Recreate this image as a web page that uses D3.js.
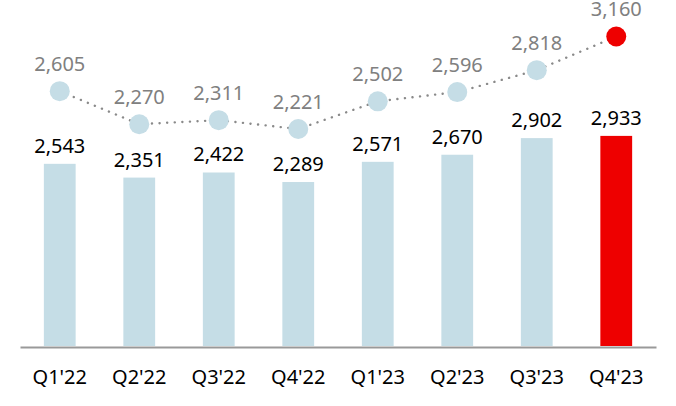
<!DOCTYPE html>
<html>
<head>
<meta charset="utf-8">
<script src="https://cdn.jsdelivr.net/npm/d3@7"></script>
<style>
  html, body { margin: 0; padding: 0; background: #fff; }
  svg { display: block; }
  text { font-family: "Noto Sans", "DejaVu Sans", sans-serif; }
</style>
</head>
<body>
<svg id="chart" width="676" height="406"></svg>
<script>
const categories = ["Q1'22", "Q2'22", "Q3'22", "Q4'22", "Q1'23", "Q2'23", "Q3'23", "Q4'23"];
const barValues = [2543, 2351, 2422, 2289, 2571, 2670, 2902, 2933];
const lineValues = [2605, 2270, 2311, 2221, 2502, 2596, 2818, 3160];

const svg = d3.select("#chart");
const baseY = 346;

const x = d3.scaleBand().domain(categories).range([20, 656]).paddingInner(0.6).paddingOuter(0.3);
const yBar = d3.scaleLinear().domain([0, 4830]).range([baseY, 0]);
const yLine = d3.scaleLinear().domain([0, 3530]).range([baseY + 2, 0]);

const fmt = d3.format(",");
const lightBlue = "#c5dde6";
const red = "#ee0000";
const isLast = (i) => i === categories.length - 1;

const data = categories.map((c, i) => ({ c, b: barValues[i], l: lineValues[i], i }));

// bars
svg.append("g").selectAll("rect").data(data).join("rect")
  .attr("x", d => x(d.c))
  .attr("y", d => yBar(d.b))
  .attr("width", x.bandwidth())
  .attr("height", d => baseY - yBar(d.b))
  .attr("fill", d => isLast(d.i) ? red : lightBlue);

// bar labels
svg.append("g").selectAll("text").data(data).join("text")
  .attr("x", d => x(d.c) + x.bandwidth() / 2)
  .attr("y", d => yBar(d.b) - 11)
  .attr("text-anchor", "middle")
  .attr("font-size", 20)
  .attr("fill", "#000")
  .text(d => fmt(d.b));

// axis line
const xAxis = d3.axisBottom(x).tickSize(0).tickPadding(23);
const gx = svg.append("g").attr("transform", `translate(0,${baseY + 1})`).call(xAxis);
gx.select(".domain").attr("stroke", "#999").attr("stroke-width", 2);
gx.selectAll("text").attr("font-size", 20).attr("fill", "#000")
  .style("font-family", "'Noto Sans', 'DejaVu Sans', sans-serif");

// dotted line
const line = d3.line().x(d => x(d.c) + x.bandwidth() / 2).y(d => yLine(d.l));
svg.append("path").datum(data)
  .attr("d", line)
  .attr("fill", "none")
  .attr("stroke", "#8a8a8a")
  .attr("stroke-width", 2.4)
  .attr("stroke-linecap", "round")
  .attr("stroke-dasharray", "0.1,7.5");

// circles
svg.append("g").selectAll("circle").data(data).join("circle")
  .attr("cx", d => x(d.c) + x.bandwidth() / 2)
  .attr("cy", d => yLine(d.l))
  .attr("r", 10)
  .attr("fill", d => isLast(d.i) ? red : lightBlue);

// line labels
svg.append("g").selectAll("text").data(data).join("text")
  .attr("x", d => x(d.c) + x.bandwidth() / 2)
  .attr("y", d => yLine(d.l) - 20)
  .attr("text-anchor", "middle")
  .attr("font-size", 20)
  .attr("fill", "#808080")
  .text(d => fmt(d.l));
</script>
</body>
</html>
